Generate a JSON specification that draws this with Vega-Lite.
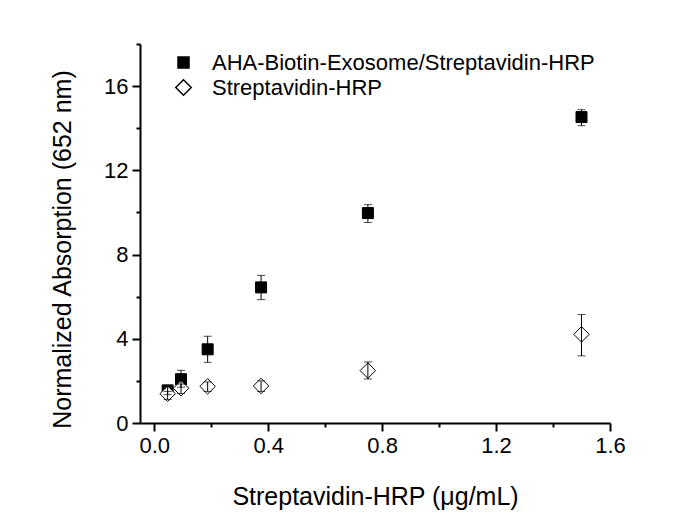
{
  "$schema": "https://vega.github.io/schema/vega-lite/v6.json",
  "width": 470,
  "height": 379,
  "autosize": "none",
  "padding": {"left": 140, "top": 44, "right": 80, "bottom": 107},
  "background": "white",
  "config": {
    "view": {"stroke": null},
    "font": "Liberation Sans",
    "axis": {
      "grid": false,
      "domainColor": "black",
      "domainWidth": 2,
      "tickColor": "black",
      "tickWidth": 2,
      "labelColor": "black",
      "labelFont": "Liberation Sans",
      "labelFontSize": 22,
      "titleFont": "Liberation Sans",
      "titleFontSize": 25,
      "titleFontWeight": "normal",
      "titleColor": "black",
      "labelOverlap": false,
      "labelFlush": false
    }
  },
  "data": {
    "values": [
      {"series": "AHA-Biotin-Exosome/Streptavidin-HRP", "x": 0.047, "y": 1.55, "lo": 1.35, "hi": 1.75},
      {"series": "AHA-Biotin-Exosome/Streptavidin-HRP", "x": 0.094, "y": 2.08, "lo": 1.7, "hi": 2.5},
      {"series": "AHA-Biotin-Exosome/Streptavidin-HRP", "x": 0.1875, "y": 3.5, "lo": 2.88, "hi": 4.12},
      {"series": "AHA-Biotin-Exosome/Streptavidin-HRP", "x": 0.375, "y": 6.44, "lo": 5.86, "hi": 7.01},
      {"series": "AHA-Biotin-Exosome/Streptavidin-HRP", "x": 0.75, "y": 9.97, "lo": 9.52, "hi": 10.37},
      {"series": "AHA-Biotin-Exosome/Streptavidin-HRP", "x": 1.5, "y": 14.53, "lo": 14.12, "hi": 14.88},
      {"series": "Streptavidin-HRP", "x": 0.047, "y": 1.39, "lo": 1.12, "hi": 1.5},
      {"series": "Streptavidin-HRP", "x": 0.094, "y": 1.65, "lo": 1.4, "hi": 1.85},
      {"series": "Streptavidin-HRP", "x": 0.1875, "y": 1.74, "lo": 1.5, "hi": 1.95},
      {"series": "Streptavidin-HRP", "x": 0.375, "y": 1.76, "lo": 1.5, "hi": 2.0},
      {"series": "Streptavidin-HRP", "x": 0.75, "y": 2.49, "lo": 2.09, "hi": 2.9},
      {"series": "Streptavidin-HRP", "x": 1.5, "y": 4.21, "lo": 3.19, "hi": 5.15}
    ]
  },
  "encoding": {
    "x": {
      "field": "x",
      "type": "quantitative",
      "title": "Streptavidin-HRP (μg/mL)",
      "scale": {"domain": [-0.05, 1.6], "nice": false, "zero": false},
      "axis": {
        "values": [0, 0.2, 0.4, 0.6, 0.8, 1.0, 1.2, 1.4, 1.6],
        "labelExpr": "round(datum.value*10) % 4 === 0 ? format(datum.value, '.1f') : ''",
        "tickSize": {"condition": {"test": "round(datum.value*10) % 4 === 0", "value": 8}, "value": 4},
        "labelPadding": 4,
        "titleX": 235,
        "titleY": 81,
        "titleBaseline": "alphabetic",
        "titleAlign": "center"
      }
    }
  },
  "layer": [
    {
      "mark": {"type": "point", "stroke": "black", "strokeWidth": 1, "opacity": 1},
      "encoding": {
        "y": {
          "field": "y",
          "type": "quantitative",
          "title": "Normalized Absorption (652 nm)",
          "scale": {"domain": [0, 18], "nice": false},
          "axis": {
            "values": [0, 2, 4, 6, 8, 10, 12, 14, 16, 18],
            "labelExpr": "datum.value % 4 === 0 ? datum.label : ''",
            "tickSize": {"condition": {"test": "datum.value % 4 === 0", "value": 8}, "value": 4},
            "labelPadding": 4,
            "titleX": -70,
            "titleY": 205,
            "titleBaseline": "alphabetic",
            "titleAlign": "center",
            "titleAngle": -90
          }
        },
        "shape": {
          "field": "series",
          "type": "nominal",
          "scale": {"domain": ["AHA-Biotin-Exosome/Streptavidin-HRP", "Streptavidin-HRP"], "range": ["square", "diamond"]},
          "legend": {"title": null, "orient": "none", "legendX": 32.5, "legendY": 7.5, "labelFontSize": 22, "labelFont": "Liberation Sans", "labelColor": "black", "labelLimit": 0, "labelOffset": 17.5, "rowPadding": 3, "padding": 0, "encode": {"symbols": {"update": {"stroke": {"value": "black"}, "strokeWidth": {"value": 1}}}}}
        },
        "fill": {
          "field": "series",
          "type": "nominal",
          "scale": {"domain": ["AHA-Biotin-Exosome/Streptavidin-HRP", "Streptavidin-HRP"], "range": ["black", "white"]},
          "legend": {"title": null, "orient": "none", "legendX": 32.5, "legendY": 7.5, "labelFontSize": 22, "labelFont": "Liberation Sans", "labelColor": "black", "labelLimit": 0, "labelOffset": 17.5, "rowPadding": 3, "padding": 0, "encode": {"symbols": {"update": {"stroke": {"value": "black"}, "strokeWidth": {"value": 1}}}}}
        },
        "size": {
          "field": "series",
          "type": "nominal",
          "scale": {"domain": ["AHA-Biotin-Exosome/Streptavidin-HRP", "Streptavidin-HRP"], "range": [121, 240]},
          "legend": {"title": null, "orient": "none", "legendX": 32.5, "legendY": 7.5, "labelFontSize": 22, "labelFont": "Liberation Sans", "labelColor": "black", "labelLimit": 0, "labelOffset": 17.5, "rowPadding": 3, "padding": 0, "encode": {"symbols": {"update": {"stroke": {"value": "black"}, "strokeWidth": {"value": 1}}}}}
        }
      }
    },
    {
      "mark": {"type": "errorbar", "thickness": 1, "color": "black", "ticks": {"size": 8, "thickness": 1, "color": "black"}},
      "encoding": {
        "y": {"field": "lo", "type": "quantitative", "title": "Normalized Absorption (652 nm)"},
        "y2": {"field": "hi"}
      }
    }
  ]
}
